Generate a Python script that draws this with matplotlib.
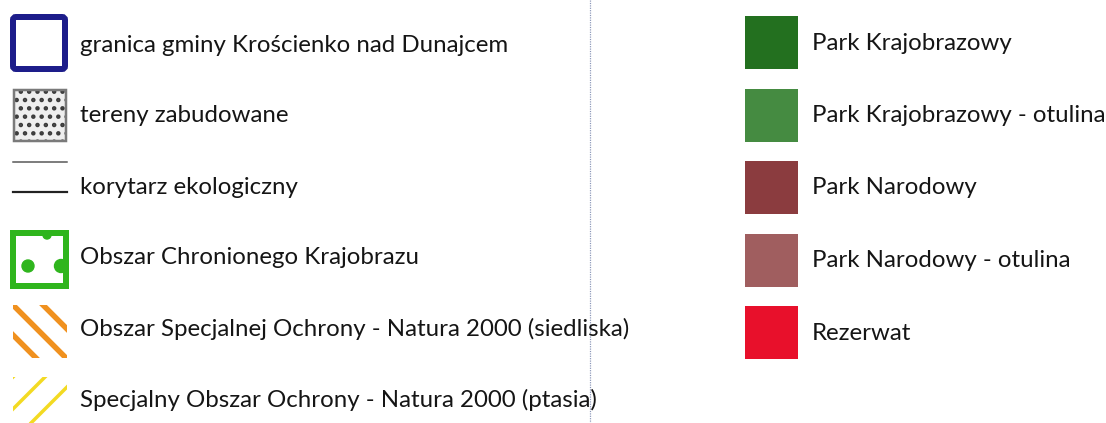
import matplotlib.pyplot as plt
from matplotlib.patches import Rectangle, FancyBboxPatch, Circle

left_labels = [
    "granica gminy Krościenko nad Dunajcem",
    "tereny zabudowane",
    "korytarz ekologiczny",
    "Obszar Chronionego Krajobrazu",
    "Obszar Specjalnej Ochrony - Natura 2000 (siedliska)",
    "Specjalny Obszar Ochrony - Natura 2000 (ptasia)",
]
right_labels = [
    "Park Krajobrazowy",
    "Park Krajobrazowy - otulina",
    "Park Narodowy",
    "Park Narodowy - otulina",
    "Rezerwat",
]
right_colors = ["#23701f", "#458b41", "#8b3c3f", "#a05e5f", "#e8102b"]

W, H = 1106, 423
PT = 0.72  # pixels -> points at dpi 100
FS = 17.3
TXT = "#151515"

plt.rcParams["hatch.linewidth"] = 2.0


def setup():
    fig = plt.figure(figsize=(W / 100, H / 100), dpi=100)
    ax = fig.add_axes([0, 0, 1, 1])
    ax.set_xlim(0, W)
    ax.set_ylim(H, 0)
    ax.axis("off")
    return fig, ax


def clipped_lines(ax, box, offsets, slope, color, lw):
    x0, y0, w, h = box
    clip = Rectangle((x0, y0), w, h, transform=ax.transData, fill=False, lw=0)
    ax.add_patch(clip)
    for off in offsets:
        xs = [x0 + off - h - w, x0 + off + w + h]
        if slope > 0:  # "\" stripes
            ys = [y0 + (x - (x0 + off)) for x in xs]
        else:  # "/" stripes
            ys = [y0 + h - (x - (x0 + off)) for x in xs]
        ln, = ax.plot(xs, ys, color=color, lw=lw * PT, solid_capstyle="butt")
        ln.set_clip_path(clip)


def draw_left(ax):
    row = 71
    ys = [45 + i * row for i in range(len(left_labels))]
    for y, label in zip(ys, left_labels):
        ax.text(80, y, label, fontsize=FS, family="Lato", color=TXT,
                va="center", ha="left")

    # granica gminy
    ax.add_patch(FancyBboxPatch((13, 17), 52, 52, boxstyle="round,pad=0,rounding_size=3",
                                fill=False, ec="#1d1d8a", lw=6 * PT))
    # tereny zabudowane
    ax.add_patch(Rectangle((14, 90), 52, 51, fc="#eeeeee", ec="#3a3a3a",
                           hatch="..", lw=0))
    ax.add_patch(Rectangle((14, 90), 52, 51, fill=False, ec="#7a7a7a", lw=2.5 * PT))
    # korytarz ekologiczny
    ax.plot([13, 67], [162, 162], color="#555555", lw=1.5 * PT)
    ax.plot([13, 67], [192, 192], color="#222222", lw=2.2 * PT)
    # OChK
    g = "#2fb51d"
    ax.add_patch(Rectangle((13, 233), 53, 53, fill=False, ec=g, lw=6 * PT))
    ax.add_patch(Circle((28, 266), 6, color=g))
    ax.add_patch(Circle((61, 266), 6.5, color=g))
    ax.add_patch(Circle((47, 235), 4, color=g))
    # Natura 2000 siedliska
    clipped_lines(ax, (13, 305, 54, 53), [0, 30, -30], 1, "#f0911f", 5.5)
    # Natura 2000 ptasia
    clipped_lines(ax, (13, 377, 54, 54), [-54, -22, 10], -1, "#f3da22", 3.5)


def draw_right(ax):
    row = 72.5
    ys = [43 + i * row for i in range(len(right_labels))]
    for y, label, c in zip(ys, right_labels, right_colors):
        ax.add_patch(Rectangle((745, y - 26.5), 53, 53, fc=c, ec="none"))
        ax.text(812, y, label, fontsize=FS, family="Lato", color=TXT,
                va="center", ha="left")


def main():
    fig, ax = setup()
    ax.plot([590, 590], [0, H], color="#8a96b8", lw=1.2 * PT, ls=(0, (1, 1)))
    draw_left(ax)
    draw_right(ax)
    fig.savefig("out.png", dpi=100)


if __name__ == "__main__":
    main()
